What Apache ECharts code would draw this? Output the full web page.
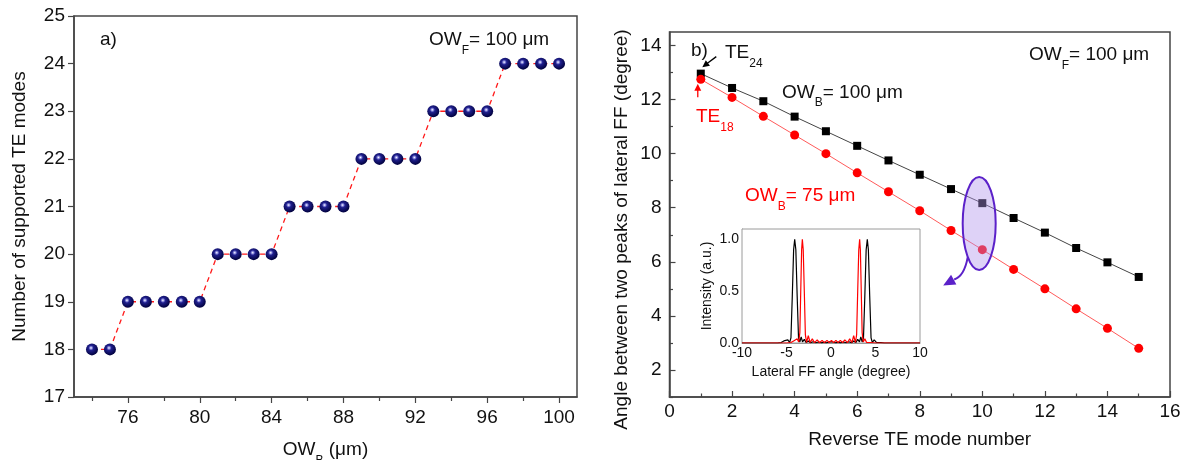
<!DOCTYPE html>
<html><head><meta charset="utf-8">
<script src="https://cdn.jsdelivr.net/npm/echarts@6/dist/echarts.min.js"></script>
<style>html,body{margin:0;padding:0;background:#fff}#c{width:1189px;height:460px}</style>
</head><body><div id="c"></div>
<script>
// ---------- data (a) ----------
const owB = [74,75,76,77,78,79,80,81,82,83,84,85,86,87,88,89,90,91,92,93,94,95,96,97,98,99,100];
const teModes = [18,18,19,19,19,19,19,20,20,20,20,21,21,21,21,22,22,22,22,23,23,23,23,24,24,24,24];
const aXLabels = [76,80,84,88,92,96,100];
const aXMinor = [74,78,82,86,90,94,98];
// ---------- data (b) ----------
const modeNumber = [1,2,3,4,5,6,7,8,9,10,11,12,13,14,15];
const angleOW100 = [12.96,12.43,11.94,11.37,10.83,10.29,9.75,9.22,8.69,8.17,7.62,7.08,6.51,5.98,5.44];
const angleOW75 = [12.75,12.08,11.38,10.69,10.0,9.29,8.59,7.89,7.16,6.45,5.72,5.0,4.26,3.54,2.8];
const bYLabels = [2,4,6,8,10,12,14];
const bYMinor = [1,3,5,7,9,11,13];
// ---------- inset: lateral far field ----------
const ffAngle = [-10,-6,-5.6,-5.3,-5.1,-4.85,-4.65,-4.5,-4.35,-4.2,-4.08,-3.95,-3.8,-3.65,-3.5,-3.35,-3.2,-3.0,-2.8,-2.55,-2.3,-2.0,-1.7,-1.4,-1.1,-0.8,-0.5,-0.2,0,0.2,0.5,0.8,1.1,1.4,1.7,2.0,2.3,2.55,2.8,3.0,3.2,3.35,3.5,3.65,3.8,3.95,4.08,4.2,4.35,4.5,4.65,4.85,5.1,5.3,5.6,6,10];
const ffBlack = [0,0,0.005,0.02,0.005,0.03,0.005,0.05,0.45,0.9,1.0,0.9,0.45,0.05,0.01,0.06,0.01,0.035,0.005,0.02,0.003,0.012,0.002,0.01,0.002,0.008,0.002,0.01,0.003,0.01,0.002,0.008,0.002,0.01,0.002,0.012,0.003,0.02,0.005,0.035,0.01,0.06,0.01,0.05,0.45,0.9,1.0,0.9,0.45,0.05,0.005,0.03,0.005,0.02,0.005,0,0];
const ffAngleR = [-10,-5,-4.5,-4.2,-4.0,-3.8,-3.62,-3.5,-3.4,-3.3,-3.22,-3.12,-3.0,-2.88,-2.75,-2.55,-2.35,-2.1,-1.85,-1.55,-1.3,-1.0,-0.75,-0.45,-0.2,0.05,0.3,0.55,0.8,1.05,1.3,1.55,1.85,2.1,2.35,2.55,2.75,2.88,3.0,3.12,3.22,3.3,3.4,3.5,3.62,3.8,4.0,4.2,4.5,5,10];
const ffRed = [0,0,0.005,0.02,0.005,0.04,0.01,0.1,0.5,0.9,1.0,0.9,0.5,0.08,0.005,0.07,0.005,0.04,0.003,0.03,0.003,0.025,0.003,0.025,0.003,0.025,0.003,0.025,0.003,0.025,0.003,0.03,0.003,0.04,0.005,0.07,0.005,0.08,0.5,0.9,1.0,0.9,0.5,0.1,0.01,0.04,0.005,0.02,0.005,0,0];

const FONT = '"Liberation Sans", Arial, Helvetica, sans-serif';
const AX = '#454545';
const zip = (a,b) => a.map((v,i)=>[v,b[i]]);

const chart = echarts.init(document.getElementById('c'), null, {renderer:'canvas'});

const sphere = {type:'radial', x:0.42, y:0.38, r:0.62, colorStops:[
  {offset:0,color:'#ffffff'},{offset:0.14,color:'#9a9ae6'},{offset:0.34,color:'#20208e'},{offset:1,color:'#00003c'}]};

function mainAxisCommon(extra){
  return Object.assign({
    type:'value', splitLine:{show:false},
    axisLine:{show:true,onZero:false,lineStyle:{color:AX,width:1.5}},
    axisLabel:{color:'#111',fontSize:19,fontFamily:FONT},
    nameTextStyle:{color:'#111',fontSize:19,fontFamily:FONT}
  }, extra);
}

const option = {
  animation:false,
  backgroundColor:'#fff',
  grid:[
    {left:74, top:16, width:503, height:381, show:true, borderColor:AX, borderWidth:1.5, containLabel:false, outerBoundsMode:'none'},
    {left:669.5, top:32, width:500.5, height:365, show:true, borderColor:AX, borderWidth:1.5, containLabel:false, outerBoundsMode:'none'},
    {left:742, top:229, width:178, height:114, show:true, backgroundColor:'#fff', borderColor:'#9a9a9a', borderWidth:1, containLabel:false, outerBoundsMode:'none', z:5}
  ],
  xAxis:[
    mainAxisCommon({gridIndex:0, position:'bottom', min:73, max:101,
      axisTick:{show:true, inside:false, length:6, lineStyle:{color:AX,width:1.2}, customValues:aXLabels},
      axisLabel:{color:'#111',fontSize:19,fontFamily:FONT,margin:11, customValues:aXLabels}}),
    {type:'value', gridIndex:0, position:'bottom', min:73, max:101, splitLine:{show:false},
      axisLine:{show:false}, axisLabel:{show:false},
      axisTick:{show:true, inside:false, length:4, lineStyle:{color:AX,width:1.2}, customValues:aXMinor}},
    mainAxisCommon({gridIndex:1, position:'bottom', min:0, max:16, interval:2,
      axisTick:{show:true, inside:true, length:6, lineStyle:{color:AX,width:1.2}},
      minorTick:{show:true, splitNumber:2, length:3.5, lineStyle:{color:AX,width:1.2}},
      axisLabel:{color:'#111',fontSize:19,fontFamily:FONT,margin:5},
      name:'Reverse TE mode number', nameLocation:'middle', nameGap:33}),
    {type:'value', gridIndex:2, position:'bottom', min:-10, max:10, interval:5, splitLine:{show:false},
      axisLine:{show:true,onZero:false,lineStyle:{color:'#9a9a9a',width:1}},
      axisTick:{show:false},
      axisLabel:{color:'#111',fontSize:14,fontFamily:FONT,margin:3},
      name:'Lateral FF angle (degree)', nameLocation:'middle', nameGap:22,
      nameTextStyle:{color:'#111',fontSize:14,fontFamily:FONT}}
  ],
  yAxis:[
    mainAxisCommon({gridIndex:0, position:'left', min:17, max:25, interval:1,
      axisTick:{show:true, inside:false, length:6, lineStyle:{color:AX,width:1.2}},
      axisLabel:{color:'#111',fontSize:19,fontFamily:FONT,margin:9},
      name:'Number of supported TE modes', nameLocation:'middle', nameGap:45}),
    mainAxisCommon({gridIndex:1, position:'left', min:1, max:14.5,
      axisTick:{show:true, inside:true, length:6, lineStyle:{color:AX,width:1.2}, customValues:bYLabels},
      axisLabel:{color:'#111',fontSize:19,fontFamily:FONT,margin:8, customValues:bYLabels},
      name:'Angle between two peaks of lateral FF (degree)', nameLocation:'middle', nameGap:38,
      nameTextStyle:{color:'#111',fontSize:19,fontFamily:FONT,padding:[0,30,0,0]}}),
    {type:'value', gridIndex:1, position:'left', min:1, max:14.5, splitLine:{show:false},
      axisLine:{show:false}, axisLabel:{show:false},
      axisTick:{show:true, inside:true, length:3.5, lineStyle:{color:AX,width:1.2}, customValues:bYMinor}},
    {type:'value', gridIndex:2, position:'left', min:0, max:1.1, splitLine:{show:false},
      axisLine:{show:true,onZero:false,lineStyle:{color:'#9a9a9a',width:1}},
      axisTick:{show:false},
      axisLabel:{color:'#111',fontSize:14,fontFamily:FONT,margin:3, customValues:[0,0.5,1], formatter:v=>v.toFixed(1)},
      name:'Intensity (a.u.)', nameLocation:'middle', nameGap:28,
      nameTextStyle:{color:'#111',fontSize:14,fontFamily:FONT}}
  ],
  series:[
    {type:'line', xAxisIndex:0, yAxisIndex:0, data:zip(owB,teModes), symbol:'circle', symbolSize:12,
      itemStyle:{color:sphere, borderWidth:0}, lineStyle:{color:'#ff1a1a', width:1.3, type:[5,4]}, z:3},
    {type:'line', xAxisIndex:2, yAxisIndex:1, data:zip(modeNumber,angleOW100), symbol:'rect', symbolSize:8,
      itemStyle:{color:'#000'}, lineStyle:{color:'#444', width:1}, z:3},
    {type:'line', xAxisIndex:2, yAxisIndex:1, data:zip(modeNumber,angleOW75), symbol:'circle', symbolSize:9,
      itemStyle:{color:'#ff0000'}, lineStyle:{color:'#ff5a5a', width:1}, z:3},
    {type:'line', xAxisIndex:3, yAxisIndex:3, data:zip(ffAngle,ffBlack), showSymbol:false, symbol:'none',
      lineStyle:{color:'#000', width:1.2}, z:6},
    {type:'line', xAxisIndex:3, yAxisIndex:3, data:zip(ffAngleR,ffRed), showSymbol:false, symbol:'none',
      lineStyle:{color:'#ff0000', width:1.2}, z:6}
  ]
};
chart.setOption(option);

// ---------- annotations ----------
const mctx = document.createElement('canvas').getContext('2d');
function tw(t, fs){ mctx.font = fs+'px '+FONT; return mctx.measureText(t).width; }
function subText(segs, x, y, color, align){
  const fs=19, sfs=12;
  const total = segs.reduce((a,s)=>a+tw(s[0], s[1]?sfs:fs),0);
  let cx = align==='center' ? x-total/2 : x;
  const out=[];
  segs.forEach(s=>{
    const f = s[1]?sfs:fs;
    out.push({type:'text', x:cx, y:s[1]? y+10.5 : y, z:100,
      style:{text:s[0], fill:color, font:f+'px '+FONT, textAlign:'left', align:'left', textVerticalAlign:'middle', verticalAlign:'middle'}});
    cx += tw(s[0], f);
  });
  return out;
}
function arrow(x1,y1,x2,y2,color,hl,hw,lw){
  const dx=x2-x1, dy=y2-y1, L=Math.hypot(dx,dy), ux=dx/L, uy=dy/L, px=-uy, py=ux;
  const bx=x2-ux*hl, by=y2-uy*hl;
  return [
    {type:'line', z:100, shape:{x1:x1,y1:y1,x2:bx+ux*1,y2:by+uy*1}, style:{stroke:color, lineWidth:lw}},
    {type:'polygon', z:100, shape:{points:[[x2,y2],[bx+px*hw/2,by+py*hw/2],[bx-px*hw/2,by-py*hw/2]]}, style:{fill:color}}
  ];
}
const px = (x,y) => chart.convertToPixel({xAxisIndex:2, yAxisIndex:1}, [x,y]);
const pB1 = px(modeNumber[0], angleOW100[0]);
const pR1 = px(modeNumber[0], angleOW75[0]);
const pE = px(9.9, 7.42);

let g = [];
g.push({type:'text', x:100, y:40, z:100, style:{text:'a)', fill:'#111', font:'19px '+FONT, textVerticalAlign:'middle', verticalAlign:'middle'}});
g = g.concat(subText([['OW',0],['F',1],['= 100 μm',0]], 429, 40, '#111'));
g = g.concat(subText([['OW',0],['B',1],[' (μm)',0]], 325.5, 450, '#111', 'center'));
g.push({type:'text', x:691, y:51, z:100, style:{text:'b)', fill:'#111', font:'19px '+FONT, textVerticalAlign:'middle', verticalAlign:'middle'}});
g = g.concat(subText([['TE',0],['24',1]], 725, 53, '#111'));
g = g.concat(subText([['OW',0],['B',1],['= 100 μm',0]], 782, 92.5, '#111'));
g = g.concat(subText([['TE',0],['18',1]], 696, 117, '#ff0000'));
g = g.concat(subText([['OW',0],['B',1],['= 75 μm',0]], 745, 196, '#ff0000'));
g = g.concat(subText([['OW',0],['F',1],['= 100 μm',0]], 1029, 55, '#111'));
g = g.concat(arrow(pB1[0]+15.5, pB1[1]-17, pB1[0]+1.5, pB1[1]-6.5, '#000', 7, 7, 1.3));
g = g.concat(arrow(pR1[0]-3, pR1[1]+18, pR1[0]-3, pR1[1]+4.5, '#ff0000', 7, 7, 1.3));
// ellipse + curved arrow
const ex=pE[0], ey=pE[1];
g.push({type:'ellipse', z:90, shape:{cx:ex, cy:ey, rx:16.5, ry:46.5}, style:{fill:'rgba(177,147,237,0.42)', stroke:'#5b21c9', lineWidth:2}});
const tip=[ex-36, ey+62], endP=[ex-25, ey+56];
g.push({type:'bezierCurve', z:90, shape:{x1:ex-11.5, y1:ey+34, cpx1:ex-15, cpy1:ey+53, x2:endP[0], y2:endP[1]}, style:{stroke:'#5b21c9', lineWidth:2, fill:null}});
(function(){
  const dx=tip[0]-endP[0], dy=tip[1]-endP[1], L=Math.hypot(dx,dy), ux=dx/L, uy=dy/L, ppx=-uy, ppy=ux;
  const hl=12, hw=11, bx=tip[0]-ux*hl, by=tip[1]-uy*hl;
  g.push({type:'polygon', z:90, shape:{points:[tip,[bx+ppx*hw/2,by+ppy*hw/2],[bx-ppx*hw/2,by-ppy*hw/2]]}, style:{fill:'#5b21c9'}});
})();
chart.setOption({graphic:{elements:g}});
</script>
</body></html>
